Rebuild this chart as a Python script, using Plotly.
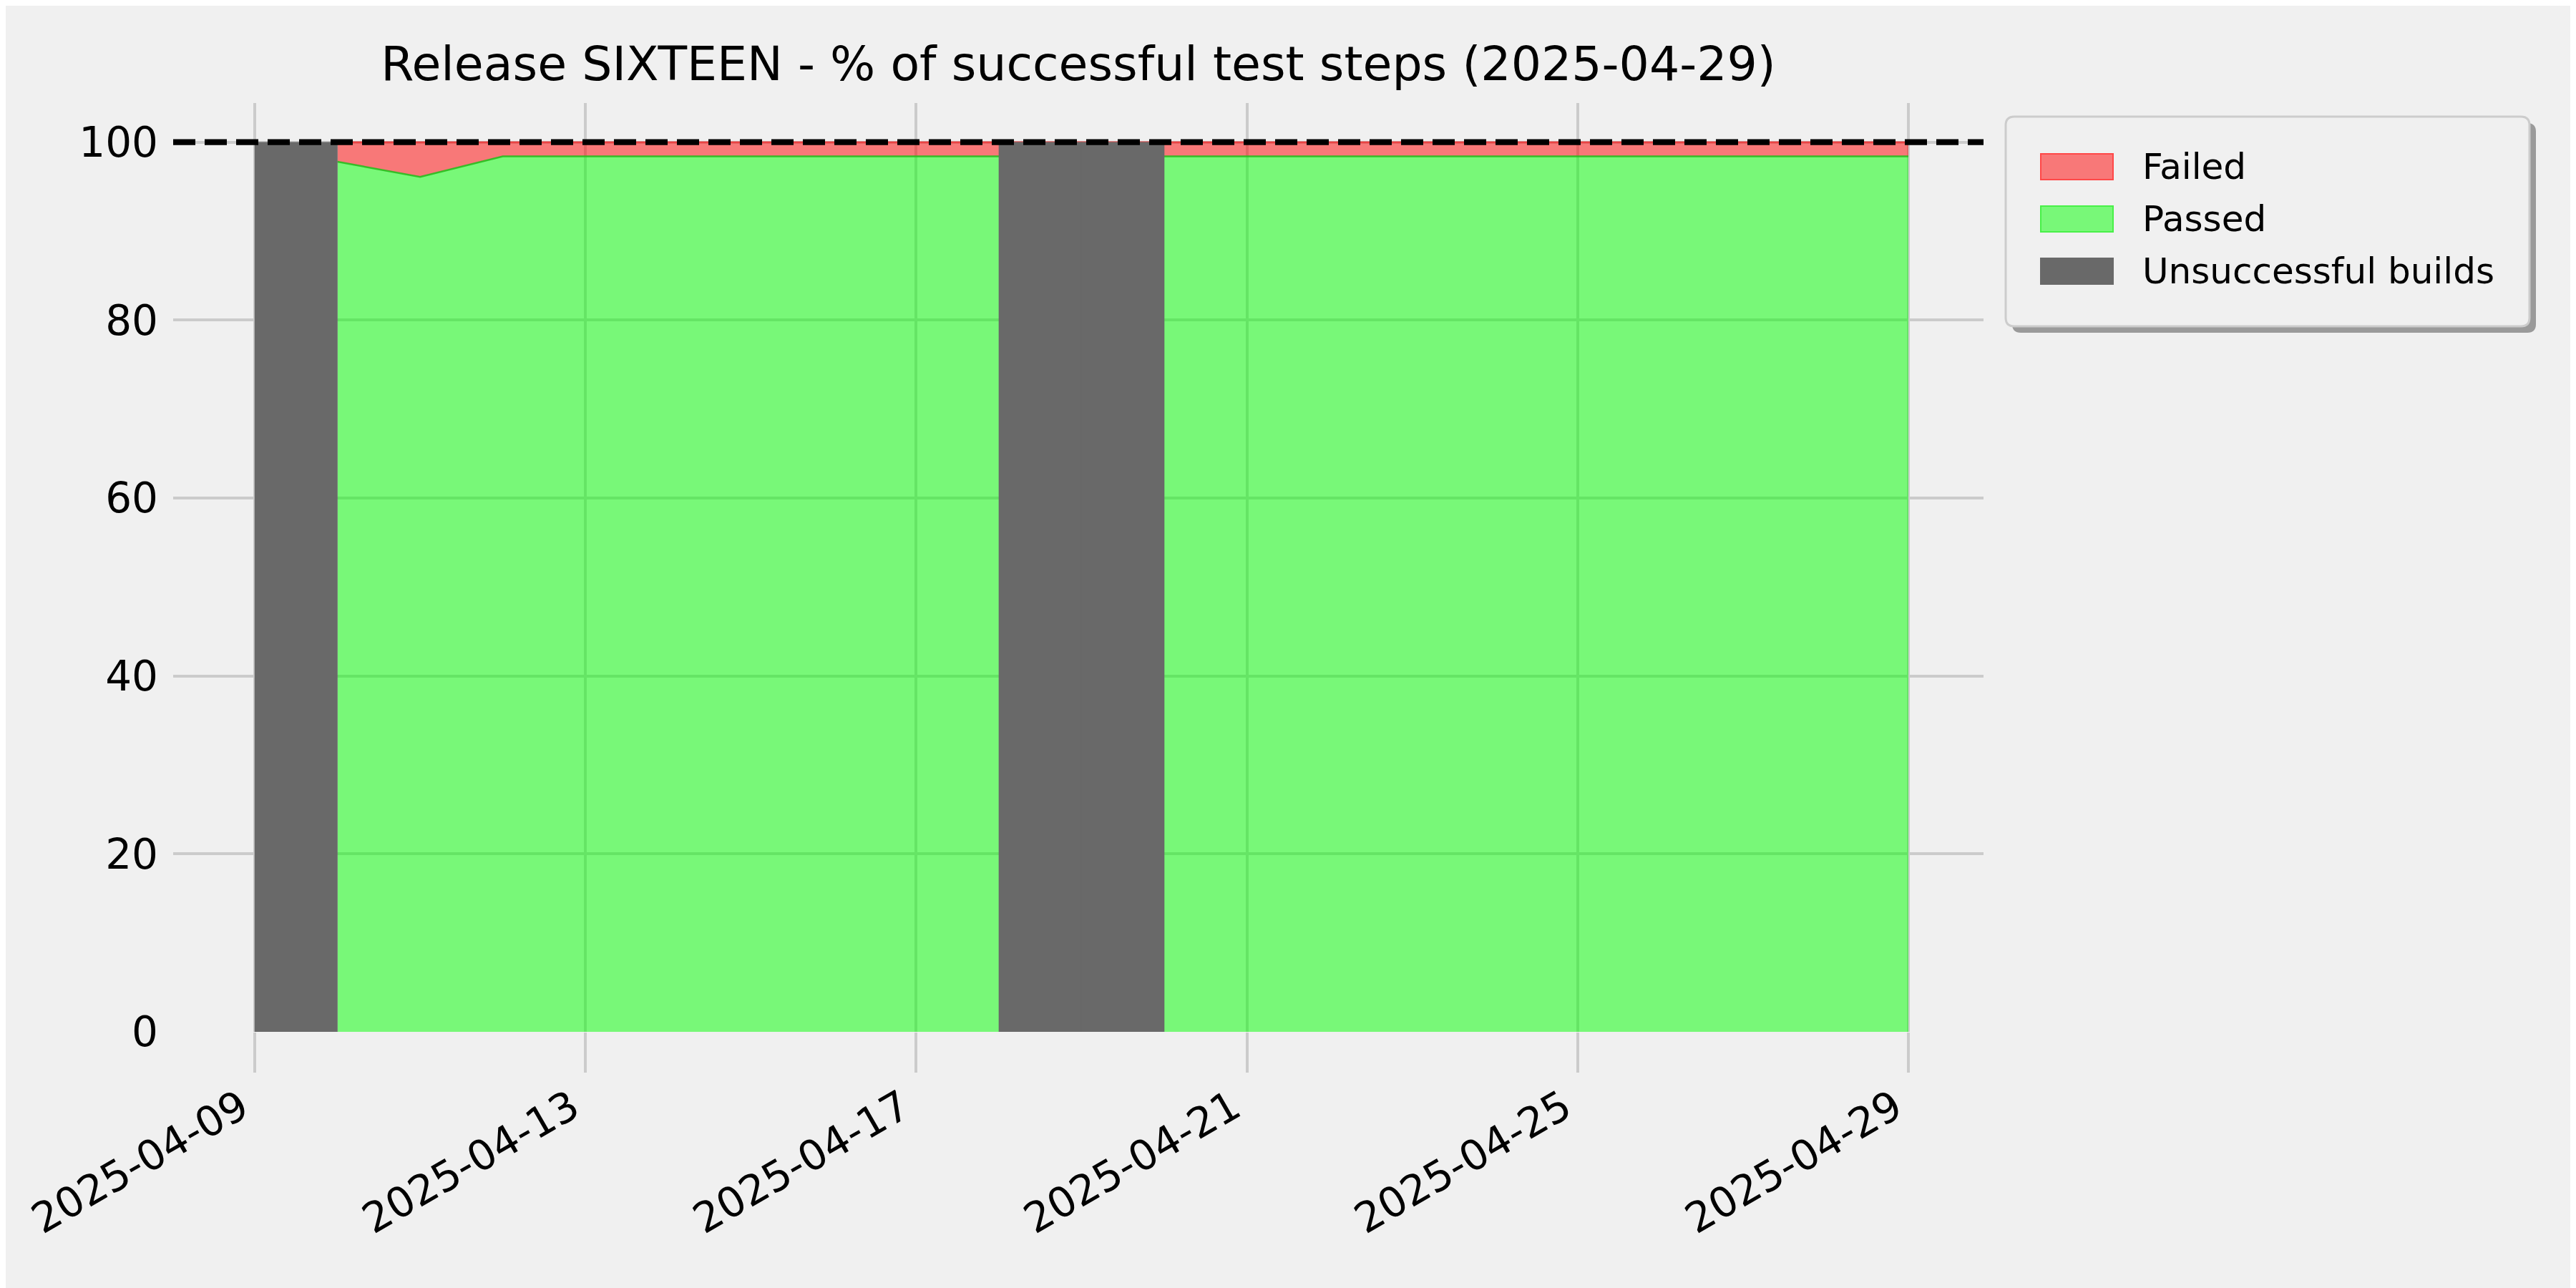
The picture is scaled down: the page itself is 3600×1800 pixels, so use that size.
import pandas as pd
import plotly.graph_objects as go

# ---------------- data ----------------
TITLE = "Release SIXTEEN - % of successful test steps (2025-04-29)"
SERIES_FAILED = "Failed"
SERIES_PASSED = "Passed"
SERIES_UNSUCCESSFUL = "Unsuccessful builds"

passed_dates = [
    "2025-04-10", "2025-04-11", "2025-04-12", "2025-04-13", "2025-04-14",
    "2025-04-15", "2025-04-16", "2025-04-17", "2025-04-20", "2025-04-21",
    "2025-04-22", "2025-04-23", "2025-04-24", "2025-04-25", "2025-04-26",
    "2025-04-27", "2025-04-28", "2025-04-29",
]
passed_pct = [97.8, 96.1, 98.4, 98.4, 98.4, 98.4, 98.4, 98.4, 98.4, 98.4,
              98.4, 98.4, 98.4, 98.4, 98.4, 98.4, 98.4, 98.4]
failed_pct = [2.2, 3.9, 1.6, 1.6, 1.6, 1.6, 1.6, 1.6, 1.6, 1.6,
              1.6, 1.6, 1.6, 1.6, 1.6, 1.6, 1.6, 1.6]

unsuccessful_dates = ["2025-04-09", "2025-04-18", "2025-04-19"]
unsuccessful_pct = [100, 100, 100]

target_pct = 100

x_tick_labels = ["2025-04-09", "2025-04-13", "2025-04-17",
                 "2025-04-21", "2025-04-25", "2025-04-29"]
y_tick_values = [0, 20, 40, 60, 80, 100]

# ---------------- styling ----------------
BG = "#f0f0f0"
GRID = "#cbcbcb"
FONT = "DejaVu Sans"
RED_FILL = "rgba(255,0,0,0.5)"
GREEN_FILL = "rgba(0,255,0,0.5)"
GRAY = "#696969"

OFF = 8  # page body offset
W, H = 3600, 1800
M_L, M_T = 242 - OFF, 144 - OFF
PW, PH = 2530, 1298
M_R = W - M_L - PW
M_B = H - M_T - PH

fig = go.Figure()

fig.add_trace(go.Scatter(
    x=pd.to_datetime(passed_dates), y=passed_pct, name=SERIES_PASSED,
    stackgroup="one", mode="lines",
    line=dict(color="rgba(40,190,30,0.9)", width=2.5),
    fillcolor=GREEN_FILL, showlegend=False,
))
fig.add_trace(go.Scatter(
    x=pd.to_datetime(passed_dates), y=failed_pct, name=SERIES_FAILED,
    stackgroup="one", mode="lines",
    line=dict(color="rgba(235,60,60,0.9)", width=2.5),
    fillcolor=RED_FILL, showlegend=False,
))

# unsuccessful builds: one-day blocks drawn on top of the area
one_day = pd.Timedelta(days=1)
bx, by = [], []
for d, v in zip(pd.to_datetime(unsuccessful_dates), unsuccessful_pct):
    bx += [d, d, d + one_day, d + one_day, d, None]
    by += [0, v, v, 0, 0, None]
fig.add_trace(go.Scatter(
    x=bx, y=by, name=SERIES_UNSUCCESSFUL, mode="lines", fill="toself",
    fillcolor=GRAY, line=dict(color=GRAY, width=0.5), showlegend=False,
))

# target dashed line
fig.add_shape(type="line", xref="paper", x0=0, x1=1, yref="y",
              y0=target_pct, y1=target_pct, layer="above",
              line=dict(color="black", width=8.3, dash="31px,13px"))

# ---------------- manual legend with shadow ----------------
def px_x(px):
    # page pixel -> paper
    return (px - OFF - M_L) / PW

def px_y(py):
    return (M_T + PH - (py - OFF)) / PH

def rounded_path(x0, y0, x1, y1, r):
    rx, ry = r / PW, r / PH
    X0, X1 = px_x(x0), px_x(x1)
    Yt, Yb = px_y(y0), px_y(y1)
    return (f"M {X0+rx},{Yt} L {X1-rx},{Yt} Q {X1},{Yt} {X1},{Yt-ry} "
            f"L {X1},{Yb+ry} Q {X1},{Yb} {X1-rx},{Yb} L {X0+rx},{Yb} "
            f"Q {X0},{Yb} {X0},{Yb+ry} L {X0},{Yt-ry} Q {X0},{Yt} {X0+rx},{Yt} Z")

LX0, LY0, LX1, LY1 = 2803, 163, 3535, 456
fig.add_shape(type="path", xref="paper", yref="paper", layer="above",
              path=rounded_path(LX0 + 9, LY0 + 9, LX1 + 9, LY1 + 9, 12),
              fillcolor="#9a9a9a", line=dict(width=0))
fig.add_shape(type="path", xref="paper", yref="paper", layer="above",
              path=rounded_path(LX0, LY0, LX1, LY1, 12),
              fillcolor=BG, line=dict(color="#cccccc", width=3))

legend_items = [
    (SERIES_FAILED, "#f87878", "#ff4848", 233),
    (SERIES_PASSED, "#78f878", "#48f048", 306),
    (SERIES_UNSUCCESSFUL, GRAY, GRAY, 379),
]
for name, fill, edge, cy in legend_items:
    fig.add_shape(type="rect", xref="paper", yref="paper", layer="above",
                  x0=px_x(2852), x1=px_x(2953), y0=px_y(cy + 18), y1=px_y(cy - 18),
                  fillcolor=fill, line=dict(color=edge, width=2))
    fig.add_annotation(xref="paper", yref="paper", x=px_x(2992), y=px_y(cy),
                       xanchor="left", yanchor="middle", showarrow=False,
                       text=name, font=dict(family=FONT, size=50, color="black"))

fig.update_layout(
    width=W, height=H,
    margin=dict(l=M_L, r=M_R, t=M_T, b=M_B, pad=0),
    paper_bgcolor=BG, plot_bgcolor=BG,
    font=dict(family=FONT, size=58, color="black"),
    showlegend=False,
    title=dict(text=TITLE, x=0.5, xref="paper", xanchor="center",
               y=1 - 81 / H, yref="container", yanchor="middle",
               font=dict(family=FONT, size=66.5, color="black")),
)
fig.update_xaxes(
    type="date",
    range=["2025-04-08 00:19", "2025-04-29 21:49"],
    tickvals=pd.to_datetime(x_tick_labels), ticktext=x_tick_labels,
    tickangle=-30, ticks="outside", ticklen=56, tickwidth=4, tickcolor=GRID,
    ticklabelshift=-19, ticklabelstandoff=-8,
    showgrid=True, gridcolor=GRID, gridwidth=4, zeroline=False, showline=False,
    tickfont=dict(family=FONT, size=58, color="black"),
)
fig.update_yaxes(
    range=[0, 104.4], tickvals=y_tick_values,
    showgrid=True, gridcolor=GRID, gridwidth=4, zeroline=False, showline=False,
    ticks="", ticklabelstandoff=20,
    tickfont=dict(family=FONT, size=58, color="black"),
)

fig.write_html("out.html")
